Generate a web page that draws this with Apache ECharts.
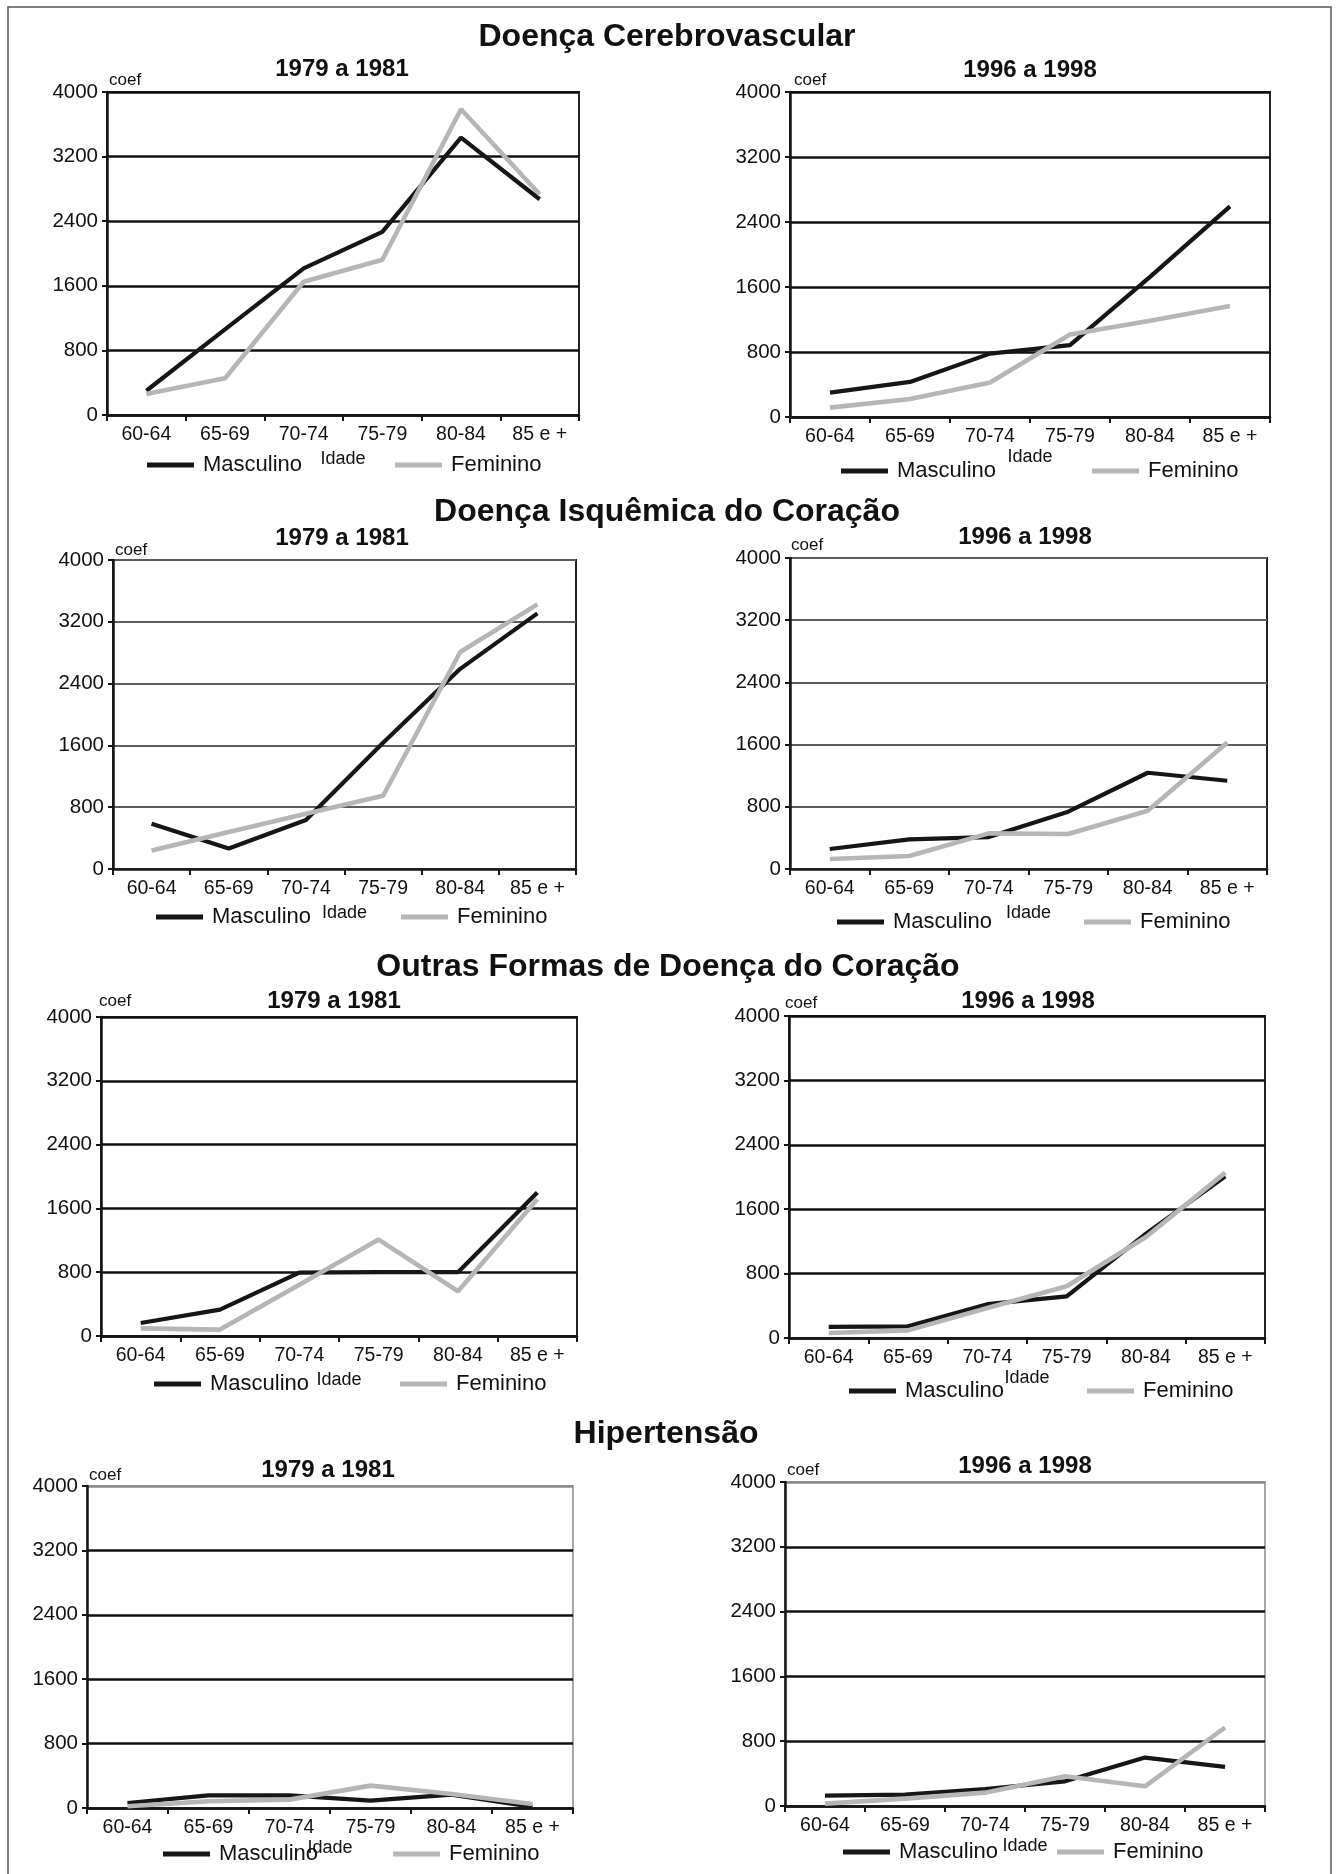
<!DOCTYPE html>
<html><head><meta charset="utf-8">
<script src="https://cdn.jsdelivr.net/npm/echarts@6/dist/echarts.min.js"></script>
<style>html,body{margin:0;padding:0;background:#fff}#c{width:1343px;height:1874px}</style>
</head><body><div id="c"></div>
<script>
// ---------------- DATA ----------------
const categories = ['60-64', '65-69', '70-74', '75-79', '80-84', '85 e +'];
const yTicks = [0, 800, 1600, 2400, 3200, 4000];
const seriesNames = ['Masculino', 'Feminino'];
const periods = ['1979 a 1981', '1996 a 1998'];
const sectionTitles = ['Doença Cerebrovascular', 'Doença Isquêmica do Coração', 'Outras Formas de Doença do Coração', 'Hipertensão'];
const xAxisName = 'Idade';
const yAxisName = 'coef';

const cerebroMasc7981 = [300, 1060, 1815, 2268, 3435, 2672];
const cerebroFem7981  = [260, 454, 1650, 1922, 3786, 2734];
const cerebroMasc9698 = [300, 432, 780, 885, 1724, 2592];
const cerebroFem9698  = [115, 222, 424, 1016, 1185, 1366];

const isqMasc7981 = [587, 265, 635, 1635, 2591, 3309];
const isqFem7981  = [239, 478, 715, 948, 2809, 3426];
const isqMasc9698 = [257, 381, 410, 737, 1238, 1135];
const isqFem9698  = [128, 167, 458, 450, 750, 1628];

const outrasMasc7981 = [163, 331, 795, 800, 800, 1799];
const outrasFem7981  = [96, 80, 644, 1209, 561, 1715];
const outrasMasc9698 = [137, 145, 420, 518, 1296, 2008];
const outrasFem9698  = [62, 95, 373, 642, 1255, 2054];

const hiperMasc7981 = [62, 157, 157, 91, 166, 12];
const hiperFem7981  = [21, 83, 104, 278, 174, 50];
const hiperMasc9698 = [128, 140, 210, 305, 598, 482];
const hiperFem9698  = [29, 91, 165, 367, 243, 969];

// ---------------- LAYOUT ----------------
const FONT = 'Liberation Sans, Arial, Helvetica, sans-serif';
const BLACK = '#161616';
const GREY = '#b6b6b6';

const panels = [
  {m: cerebroMasc7981, f: cerebroFem7981, p: 0, grid: {left: 107, top: 92, width: 472, height: 323}, coef: [109, 80], sub: [342, 69], leg: {y: 466, m: 147, f: 395}, gap: 35, gridCol: '#111', gw: 2.5, border: '#222'},
  {m: cerebroMasc9698, f: cerebroFem9698, p: 1, grid: {left: 790, top: 92, width: 480, height: 325}, coef: [794, 80], sub: [1030, 70], leg: {y: 472, m: 841, f: 1092}, gap: 31, gridCol: '#111', gw: 2.5, border: '#222'},
  {m: isqMasc7981, f: isqFem7981, p: 0, grid: {left: 113, top: 560, width: 463, height: 309}, coef: [115, 550], sub: [342, 538], leg: {y: 918, m: 156, f: 401}, gap: 35, gridCol: '#5c5c5c', gw: 2, border: '#222'},
  {m: isqMasc9698, f: isqFem9698, p: 1, grid: {left: 790, top: 558, width: 477, height: 311}, coef: [791, 545], sub: [1025, 537], leg: {y: 923, m: 837, f: 1084}, gap: 35, gridCol: '#5c5c5c', gw: 2, border: '#222'},
  {m: outrasMasc7981, f: outrasFem7981, p: 0, grid: {left: 101, top: 1017, width: 476, height: 319}, coef: [99, 1001], sub: [334, 1001], leg: {y: 1385, m: 154, f: 400}, gap: 35, gridCol: '#111', gw: 2.5, border: '#222'},
  {m: outrasMasc9698, f: outrasFem9698, p: 1, grid: {left: 789, top: 1016, width: 476, height: 322}, coef: [785, 1003], sub: [1028, 1001], leg: {y: 1392, m: 849, f: 1087}, gap: 31, gridCol: '#111', gw: 2.5, border: '#222'},
  {m: hiperMasc7981, f: hiperFem7981, p: 0, grid: {left: 87, top: 1486, width: 486, height: 322}, coef: [89, 1475], sub: [328, 1470], leg: {y: 1855, m: 163, f: 393}, gap: 29, gridCol: '#111', gw: 2.5, border: '#8a8a8a'},
  {m: hiperMasc9698, f: hiperFem9698, p: 1, grid: {left: 785, top: 1482, width: 480, height: 324}, coef: [787, 1470], sub: [1025, 1466], leg: {y: 1853, m: 843, f: 1057}, gap: 28, gridCol: '#111', gw: 2.5, border: '#8a8a8a'}
];
const sectionPos = [[667, 37], [667, 512], [668, 967], [666, 1434]];

// ---------------- OPTION ----------------
const grids = [], xAxes = [], yAxes = [], series = [], legends = [], graphics = [];

graphics.push({type: 'rect', shape: {x: 8, y: 7, width: 1323, height: 1900}, style: {fill: 'none', stroke: '#555', lineWidth: 1.5}, silent: true});

sectionTitles.forEach((t, i) => {
  graphics.push({type: 'text', x: sectionPos[i][0], y: sectionPos[i][1],
    style: {text: t, align: 'center', verticalAlign: 'middle', textAlign: 'center', textVerticalAlign: 'middle',
      font: 'bold 32px ' + FONT, fill: '#111'}});
});

panels.forEach((P, i) => {
  grids.push(Object.assign({show: true, borderColor: P.border, borderWidth: P.border === '#222' ? 2 : 1.5, backgroundColor: '#fff'}, P.grid));
  xAxes.push({
    type: 'category', gridIndex: i, data: categories, boundaryGap: true,
    name: xAxisName, nameLocation: 'middle', nameGap: P.gap,
    nameTextStyle: {fontSize: 18, color: '#111', fontFamily: FONT},
    axisLine: {show: true, lineStyle: {color: BLACK, width: 2.5}},
    axisTick: {show: true, length: 6, lineStyle: {color: BLACK, width: 2}},
    axisLabel: {fontSize: 19.5, color: '#111', fontFamily: FONT, margin: 10, interval: 0},
    splitLine: {show: false}
  });
  const splitColors = P.border === '#222' ? P.gridCol : [P.gridCol, P.gridCol, P.gridCol, P.gridCol, P.gridCol, P.border];
  yAxes.push({
    type: 'value', gridIndex: i, min: 0, max: 4000, interval: 800,
    axisLine: {show: true, lineStyle: {color: BLACK, width: 2.5}},
    axisTick: {show: true, length: 5, lineStyle: {color: BLACK, width: 2}},
    axisLabel: {fontSize: 20.5, color: '#111', fontFamily: FONT, margin: 9,
      formatter: v => yTicks.includes(v) ? String(v) : ''},
    splitLine: {show: true, lineStyle: {color: splitColors, width: P.gw}}
  });
  series.push({name: seriesNames[0], type: 'line', xAxisIndex: i, yAxisIndex: i, data: P.m,
    symbol: 'none', color: BLACK, lineStyle: {color: BLACK, width: 4.2}, itemStyle: {color: BLACK}, z: 3, animation: false});
  series.push({name: seriesNames[1], type: 'line', xAxisIndex: i, yAxisIndex: i, data: P.f,
    symbol: 'none', color: GREY, lineStyle: {color: GREY, width: 4.6}, itemStyle: {color: GREY}, z: 4, animation: false});
  [['m', 0], ['f', 1]].forEach(([k, si]) => {
    legends.push({data: [seriesNames[si]], left: P.leg[k], top: P.leg.y - 12, padding: 0,
      icon: 'rect', itemWidth: 47, itemHeight: 5, itemGap: 0, selectedMode: false,
      textStyle: {fontSize: 22, color: '#111', fontFamily: FONT, padding: [0, 0, 0, 4]}});
  });
  graphics.push({type: 'text', x: P.coef[0], y: P.coef[1],
    style: {text: yAxisName, align: 'left', verticalAlign: 'middle', textAlign: 'left', textVerticalAlign: 'middle',
      font: '17px ' + FONT, fill: '#111'}});
  graphics.push({type: 'text', x: P.sub[0], y: P.sub[1],
    style: {text: periods[P.p], align: 'center', verticalAlign: 'middle', textAlign: 'center', textVerticalAlign: 'middle',
      font: 'bold 24px ' + FONT, fill: '#111'}});
});

const chart = echarts.init(document.getElementById('c'), null, {renderer: 'canvas'});
chart.setOption({
  backgroundColor: '#fff',
  animation: false,
  grid: grids, xAxis: xAxes, yAxis: yAxes, series: series, legend: legends,
  graphic: {elements: graphics}
});
</script></body></html>
